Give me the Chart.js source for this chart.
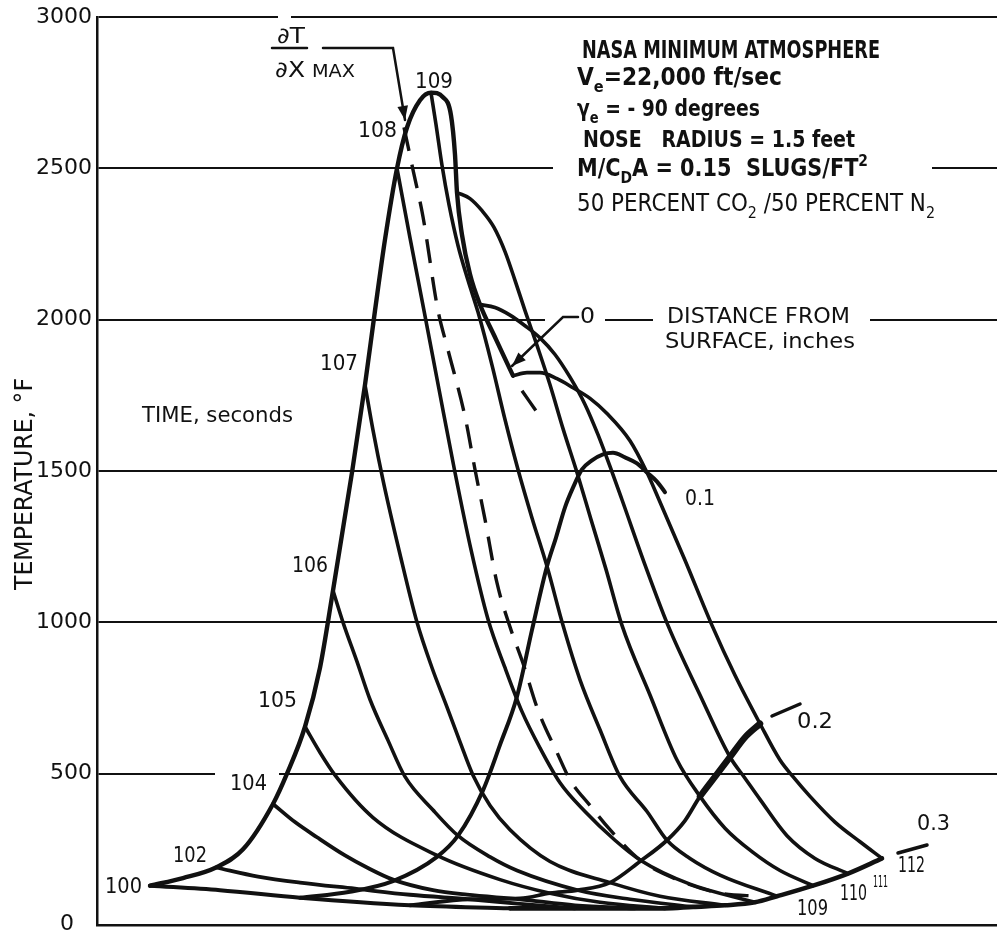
<!DOCTYPE html>
<html>
<head>
<meta charset="utf-8">
<script src="https://cdn.jsdelivr.net/npm/chart.js@4.4.1/dist/chart.umd.min.js"></script>
<style>
  html, body { margin: 0; padding: 0; background: #fff; }
</style>
</head>
<body>
<canvas id="chart" width="997" height="930"></canvas>
<script>
// Carpet plot: x is the unlabeled carpet abscissa (arbitrary units), y is temperature in °F
const yTicks = [0, 500, 1000, 1500, 2000, 2500, 3000];

// constant-time lines (seconds), from the surface (upper left) down to 0.3 inch (bottom right)
const time100 = [[5.3,130],[12.3,115],[20.3,90],[31.3,65],[41.3,55]];
const time102 = [[11.9,190],[16.1,160],[20.3,140],[25.8,120],[31.3,100],[37.3,85],[42.3,70],[47.8,55]];
const time104 = [[17.6,400],[19.8,340],[22.0,290],[24.8,230],[27.0,190],[29.6,150],[33.6,115],[37.0,100],[42.3,85],[47.8,65],[53.8,55]];
const time105 = [[20.8,655],[22.3,570],[23.8,495],[27.6,355],[34.0,230],[40.3,150],[45.3,105],[50.3,75],[56.8,55]];
const time106 = [[23.6,1105],[24.6,1000],[26.0,870],[27.3,745],[29.1,610],[30.8,490],[33.6,380],[36.1,295],[39.3,225],[42.0,180],[48.1,115],[53.3,85],[59.6,60]];
const time107 = [[26.8,1785],[27.6,1635],[28.6,1470],[30.3,1225],[32.0,1000],[33.5,850],[35.0,720],[36.3,605],[37.6,495],[39.3,395],[41.3,315],[45.3,210],[51.3,140],[56.3,95],[62.8,65]];
const time108 = [[30.0,2500],[31.3,2270],[32.7,2030],[34.2,1770],[35.8,1495],[37.4,1240],[39.1,1010],[40.8,850],[42.5,705],[44.3,585],[46.3,470],[48.8,375],[51.8,280],[54.3,215],[59.3,135],[65.8,75]];
const time109 = [[33.4,2750],[33.9,2645],[34.5,2510],[35.2,2380],[36.1,2245],[37.1,2130],[38.1,2025],[39.5,1850],[40.8,1670],[42.1,1505],[43.5,1345],[45.0,1185],[46.6,990],[48.3,810],[50.3,645],[52.3,490],[55.0,375],[57.0,280],[59.3,220],[62.3,165],[68.0,95]];
const time110 = [[36.0,2420],[37.3,2400],[38.5,2360],[39.7,2305],[40.8,2225],[41.8,2130],[42.8,2030],[44.0,1915],[45.3,1785],[46.6,1640],[48.0,1495],[49.4,1340],[50.9,1175],[52.5,990],[55.3,760],[58.0,545],[60.3,425],[62.8,320],[65.6,240],[68.3,180],[71.6,130]];
const time111 = [[38.3,2050],[39.8,2040],[41.3,2015],[42.8,1980],[44.3,1940],[45.8,1885],[47.3,1810],[48.8,1720],[50.1,1620],[51.3,1515],[52.5,1405],[54.8,1190],[57.1,990],[60.3,760],[63.3,555],[64.8,485],[66.3,415],[69.0,295],[71.8,220],[75.1,170]];
const time112 = [[41.6,1815],[43.0,1825],[44.3,1825],[46.0,1805],[47.6,1775],[49.3,1740],[51.0,1690],[53.3,1600],[55.0,1495],[56.2,1405],[58.8,1205],[61.5,990],[63.8,825],[66.3,665],[68.3,545],[69.6,490],[71.3,425],[73.8,340],[76.3,275],[78.5,220]];

// constant-distance curves (inches from surface), temperature history 100 -> 112 s
const depth0  = [[5.3,130],[8.6,155],[11.9,190],[14.6,250],[17.6,400],[19.0,500],[20.8,655],[22.3,850],[23.6,1105],[25.5,1495],[26.8,1785],[27.8,2030],[28.8,2265],[30.0,2500],[31.0,2635],[32.3,2725],[33.4,2750],[34.6,2735],[35.4,2675],[35.8,2545],[36.0,2420],[36.5,2280],[37.3,2150],[38.3,2050],[39.9,1935],[41.6,1815]];
const depth01 = [[20.3,90],[25.3,110],[29.6,145],[34.0,225],[36.1,295],[38.6,445],[40.3,595],[42.0,755],[43.5,975],[45.0,1185],[45.9,1280],[46.8,1380],[47.6,1445],[48.5,1505],[49.5,1535],[50.6,1555],[51.6,1560],[52.8,1545],[54.0,1525],[55.0,1495],[56.0,1465],[56.8,1430]];
const depth02 = [[31.3,65],[37.3,85],[42.3,88],[45.3,105],[48.1,115],[51.3,140],[54.3,210],[57.0,280],[58.8,345],[60.3,425],[61.8,490],[63.3,555],[64.8,620],[66.3,665]];
const depth03 = [[41.3,55],[47.8,55],[53.8,55],[56.8,55],[59.6,60],[62.8,65],[65.8,75],[68.0,95],[71.6,130],[75.1,170],[78.5,220]];

// locus of maximum temperature gradient (dashed)
const dTdxMax = [[30.7,2635],[31.6,2495],[32.6,2340],[34.1,2030],[35.1,1900],[36.8,1680],[37.8,1505],[38.8,1340],[40.0,1130],[41.3,985],[42.6,865],[44.1,710],[46.0,570],[47.3,480],[49.3,395],[51.3,315],[54.3,215],[58.0,150],[62.3,105],[66.3,95]];
const dTdxMaxLate = [[42.5,1765],[44.2,1685]];

const ink = '#111';
const FONT = '"DejaVu Sans", sans-serif';

function curve(pts, width, dash) {
    return {
        data: pts.map(p => ({ x: p[0], y: p[1] })),
        showLine: true,
        borderColor: ink,
        borderWidth: width,
        borderDash: dash || [],
        borderCapStyle: dash ? 'butt' : 'round',
        borderJoinStyle: 'round',
        pointRadius: 0,
        cubicInterpolationMode: 'monotone',
        fill: false
    };
}

// texto con subindices / superindices, ajustado al ancho indicado
function drawText(ctx, parts, x, y, size, width, bold) {
    const w8 = bold ? 'bold ' : '';
    const segs = (typeof parts === 'string' ? [parts] : parts)
        .map(p => typeof p === 'string' ? { t: p } : Object.assign({}, p));
    let total = 0;
    segs.forEach(s => {
        s.size = (s.sub || s.sup) ? Math.round(size * 0.68) : size;
        ctx.font = w8 + s.size + 'px ' + FONT;
        s.w = ctx.measureText(s.t).width;
        total += s.w;
    });
    const k = width ? width / total : 1;
    ctx.save();
    ctx.translate(x, y);
    ctx.scale(k, 1);
    ctx.fillStyle = ink;
    ctx.textAlign = 'left';
    ctx.textBaseline = 'alphabetic';
    let cx = 0;
    segs.forEach(s => {
        ctx.font = w8 + s.size + 'px ' + FONT;
        ctx.fillText(s.t, cx, s.sub ? size * 0.3 : (s.sup ? -size * 0.42 : 0));
        cx += s.w;
    });
    ctx.restore();
}

function leader(ctx, pts, head) {
    ctx.beginPath();
    ctx.moveTo(pts[0][0], pts[0][1]);
    pts.slice(1).forEach(p => ctx.lineTo(p[0], p[1]));
    ctx.stroke();
    if (!head) return;
    const [x1, y1] = pts[pts.length - 2];
    const [x2, y2] = pts[pts.length - 1];
    const a = Math.atan2(y2 - y1, x2 - x1);
    const bx = x2 - head * Math.cos(a), by = y2 - head * Math.sin(a);
    const w = head * 0.38;
    ctx.beginPath();
    ctx.moveTo(x2, y2);
    ctx.lineTo(bx - w * Math.sin(a), by + w * Math.cos(a));
    ctx.lineTo(bx + w * Math.sin(a), by - w * Math.cos(a));
    ctx.closePath();
    ctx.fill();
}

// huecos en las lineas de la rejilla donde va el texto
const gridGaps = [
    { value: 3000, from: 278, to: 291 },
    { value: 2500, from: 553, to: 932 },
    { value: 2000, from: 545, to: 605 },
    { value: 2000, from: 653, to: 870 },
    { value: 500, from: 215, to: 279 }
];

const notes = {
    id: 'notes',
    beforeDatasetsDraw(chart) {
        const ctx = chart.ctx;
        const y = chart.scales.y;
        ctx.save();
        ctx.fillStyle = '#fff';
        gridGaps.forEach(g => {
            const py = y.getPixelForValue(g.value);
            ctx.fillRect(g.from, py - 3, g.to - g.from, 6);
        });
        ctx.restore();
    },
    afterDatasetsDraw(chart) {
        const ctx = chart.ctx;
        ctx.save();
        ctx.strokeStyle = ink;
        ctx.fillStyle = ink;
        ctx.lineWidth = 2.5;
        ctx.lineCap = 'round';

        // el "0" del eje Y, algo por encima del borde inferior para que no se corte
        ctx.font = '22px ' + FONT;
        ctx.textAlign = 'left';
        ctx.textBaseline = 'alphabetic';
        ctx.fillText(String(yTicks[0]), 60, 930);

        // titulo del eje Y
        ctx.save();
        ctx.translate(23, 484);
        ctx.rotate(-Math.PI / 2);
        drawText(ctx, 'TEMPERATURE, °F', -106, 9, 25, 212);
        ctx.restore();

        // etiquetas de tiempo
        drawText(ctx, '100', 105, 893, 21, 37);
        drawText(ctx, '102', 173, 862, 21, 34);
        drawText(ctx, '104', 230, 790, 21, 37);
        drawText(ctx, '105', 258, 707, 21, 39);
        drawText(ctx, '106', 292, 572, 21, 36);
        drawText(ctx, '107', 320, 370, 21, 38);
        drawText(ctx, '108', 358, 137, 21, 39);
        drawText(ctx, '109', 415, 88, 21, 38);
        drawText(ctx, 'TIME, seconds', 142, 422, 22, 151);
        drawText(ctx, '109', 797, 915, 21, 31);
        drawText(ctx, '110', 840, 900, 21, 27);
        drawText(ctx, '111', 873, 887, 16, 15);
        drawText(ctx, '112', 898, 872, 21, 27);

        // dT/dx max
        drawText(ctx, '∂T', 277, 43, 22, 28);
        ctx.beginPath();
        ctx.moveTo(272, 48);
        ctx.lineTo(307, 48);
        ctx.stroke();
        drawText(ctx, '∂X', 275, 77, 22, 30);
        drawText(ctx, 'MAX', 312, 77, 18, 43);
        leader(ctx, [[323, 48], [393, 48], [405, 120]], 14);

        // condiciones
        drawText(ctx, 'NASA MINIMUM ATMOSPHERE', 582, 58, 24, 298, true);
        drawText(ctx, ['V', { t: 'e', sub: true }, '=22,000 ft/sec'], 577, 85, 24, 205, true);
        drawText(ctx, ['γ', { t: 'e', sub: true }, ' = - 90 degrees'], 577, 116, 23, 183, true);
        drawText(ctx, 'NOSE   RADIUS = 1.5 feet', 583, 147, 23, 272, true);
        drawText(ctx, ['M/C', { t: 'D', sub: true }, 'A = 0.15  SLUGS/FT', { t: '2', sup: true }], 577, 176, 24, 291, true);
        drawText(ctx, ['50 PERCENT CO', { t: '2', sub: true }, ' /50 PERCENT N', { t: '2', sub: true }], 577, 211, 24, 358);

        // distancia desde la superficie
        drawText(ctx, '0', 580, 323, 21, 15);
        leader(ctx, [[578, 317], [563, 317], [512, 366]], 14);
        drawText(ctx, 'DISTANCE FROM', 667, 323, 22, 183);
        drawText(ctx, 'SURFACE, inches', 665, 348, 22, 190);
        drawText(ctx, '0.1', 685, 505, 21, 30);
        drawText(ctx, '0.2', 797, 728, 21, 36);
        drawText(ctx, '0.3', 917, 830, 21, 33);
        ctx.lineWidth = 3.5;
        leader(ctx, [[772, 716], [800, 704]]);
        leader(ctx, [[898, 853], [927, 845]]);
        ctx.restore();
    }
};

const datasets = [
    curve(time100, 4), curve(time102, 3.8), curve(time104, 3.8), curve(time105, 3.6),
    curve(time106, 3.6), curve(time107, 3.6), curve(time108, 3.6), curve(time109, 3.6),
    curve(time110, 3.6), curve(time111, 3.6), curve(time112, 3.6),
    curve(depth0, 4.4), curve(depth01, 4), curve(depth02, 3.8), curve(depth02.slice(9), 6.5),
    curve(depth03, 4.6),
    curve(dTdxMax, 3.4, [24, 14]), curve(dTdxMaxLate, 3.4, [24, 14])
];

new Chart(document.getElementById('chart'), {
    type: 'scatter',
    data: { datasets: datasets },
    options: {
        responsive: false,
        animation: false,
        devicePixelRatio: 1,
        layout: { padding: { top: 17, right: 0, bottom: 5, left: 0 } },
        plugins: { legend: { display: false }, tooltip: { enabled: false } },
        scales: {
            x: {
                type: 'linear', min: 0, max: 90,
                ticks: { display: false },
                grid: { display: false, drawTicks: false },
                border: { display: true, color: ink, width: 2.5 },
                afterFit: s => { s.height = 0; s.paddingLeft = 0; s.paddingRight = 0; }
            },
            y: {
                type: 'linear', min: 0, max: 3000,
                afterBuildTicks: s => { s.ticks = yTicks.map(v => ({ value: v })); },
                ticks: {
                    color: ink,
                    font: { family: 'DejaVu Sans', size: 22 },
                    padding: 5,
                    // el 0 se dibuja aparte (ver plugin)
                    callback: v => v === 0 ? '' : String(v)
                },
                grid: { color: ink, lineWidth: 2, drawTicks: false },
                border: { display: true, color: ink, width: 2.5 },
                afterFit: s => { s.width = 97; s.paddingTop = 0; s.paddingBottom = 0; }
            }
        }
    },
    plugins: [notes]
});
</script>
</body>
</html>
